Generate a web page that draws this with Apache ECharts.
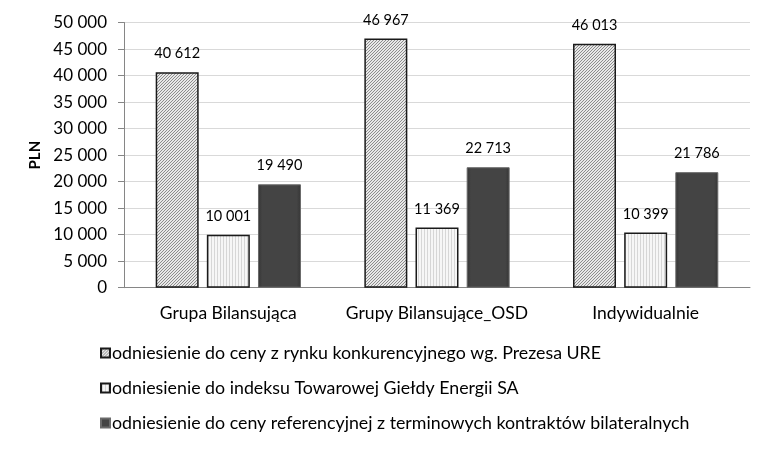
<!DOCTYPE html>
<html><head><meta charset="utf-8">
<script src="https://cdn.jsdelivr.net/npm/echarts@6/dist/echarts.min.js"></script>
<style>html,body{margin:0;padding:0;background:#fff}#c{width:776px;height:451px}</style>
</head><body><div id="c"></div>
<script>
const categories = ['Grupa Bilansująca', 'Grupy Bilansujące_OSD', 'Indywidualnie'];
const seriesNames = [
  'odniesienie do ceny z rynku konkurencyjnego wg. Prezesa URE',
  'odniesienie do indeksu Towarowej Giełdy Energii SA',
  'odniesienie do ceny referencyjnej z terminowych kontraktów bilateralnych'
];
const valuesURE = [40612, 46967, 46013];
const valuesTGE = [10001, 11369, 10399];
const valuesRef = [19490, 22713, 21786];
const yTicks = { min: 0, max: 50000, interval: 5000 };

function hatch() {
  const c = document.createElement('canvas'); c.width = 3; c.height = 3;
  const g = c.getContext('2d');
  g.fillStyle = '#e8e8e8'; g.fillRect(0,0,3,3);
  g.fillStyle = '#8c8c8c';
  g.fillRect(2,0,1,1); g.fillRect(1,1,1,1); g.fillRect(0,2,1,1);
  return c;
}
function dots() {
  const c = document.createElement('canvas'); c.width = 3; c.height = 3;
  const g = c.getContext('2d');
  g.fillStyle = '#f6f6f6'; g.fillRect(0,0,3,3);
  g.fillStyle = '#d6d6d6'; g.fillRect(1,0,1,3);
  return c;
}
const fmt = v => String(v).replace(/\B(?=(\d{3})+(?!\d))/g, ' ');
const font = 'Lato, "Open Sans", sans-serif';
const chart = echarts.init(document.getElementById('c'));
const lbl = { show: true, position: 'top', distance: 11, color: '#000', fontSize: 14.5, fontFamily: font, formatter: p => fmt(p.value) };
chart.setOption({
  animation: false,
  textStyle: { fontFamily: font },
  grid: { left: 124, right: 26, top: 22.5, bottom: 163.3 },
  legend: {
    orient: 'vertical', left: 95, top: 339, itemGap: 17, itemWidth: 9, itemHeight: 9,
    icon: 'rect',
    textStyle: { fontSize: 17.8, color: '#000', fontFamily: font, padding: [0,0,0,-3] },
    data: seriesNames
  },
  xAxis: {
    type: 'category', data: categories,
    axisLine: { lineStyle: { color: '#868686' } },
    axisTick: { show: false },
    axisLabel: { color: '#000', fontSize: 17.5, margin: 17, interval: 0, fontFamily: font }
  },
  yAxis: {
    type: 'value', min: yTicks.min, max: yTicks.max, interval: yTicks.interval,
    name: 'PLN', nameLocation: 'middle', nameGap: 80, nameRotate: 90,
    nameTextStyle: { fontWeight: 'bold', fontSize: 15, color: '#000', fontFamily: font },
    axisLine: { show: true, lineStyle: { color: '#868686' } },
    axisTick: { show: true, length: 6, lineStyle: { color: '#868686' } },
    axisLabel: { color: '#000', fontSize: 17, margin: 17, formatter: v => fmt(v), fontFamily: font },
    splitLine: { lineStyle: { color: '#d9d9d9' } }
  },
  series: [
    { name: seriesNames[0], type: 'bar', data: valuesURE, barWidth: '20.6%', barGap: '19%',
      itemStyle: { color: { image: hatch(), repeat: 'repeat' }, borderColor: '#1a1a1a', borderWidth: 1.5 }, label: lbl },
    { name: seriesNames[1], type: 'bar', data: valuesTGE, barWidth: '20.6%',
      itemStyle: { color: { image: dots(), repeat: 'repeat' }, borderColor: '#1a1a1a', borderWidth: 1.5 }, label: lbl },
    { name: seriesNames[2], type: 'bar', data: valuesRef, barWidth: '20.6%',
      itemStyle: { color: { type: 'linear', x: 0, y: 0, x2: 1, y2: 0, colorStops: [
        { offset: 0, color: '#353535' }, { offset: 0.1, color: '#444' }, { offset: 0.9, color: '#444' }, { offset: 1, color: '#353535' } ] },
        borderColor: '#6a6a6a', borderWidth: 1 }, label: lbl }
  ]
});
</script></body></html>
